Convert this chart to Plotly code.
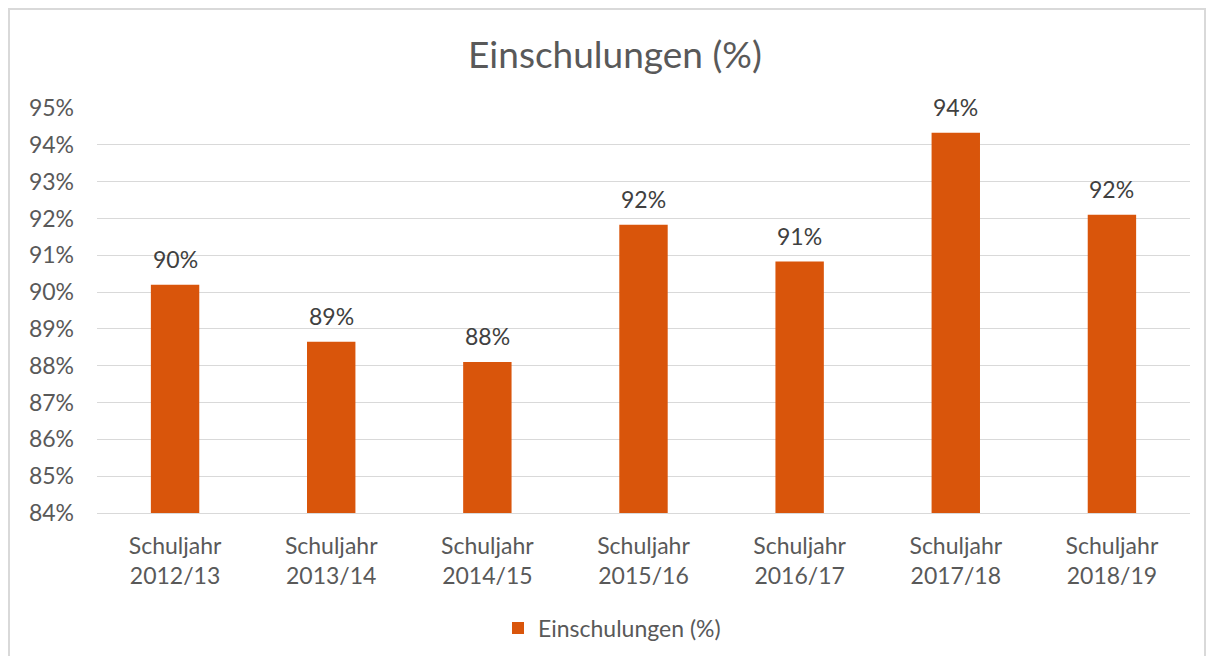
import plotly.graph_objects as go

categories = ["Schuljahr<br>2012/13", "Schuljahr<br>2013/14", "Schuljahr<br>2014/15",
              "Schuljahr<br>2015/16", "Schuljahr<br>2016/17", "Schuljahr<br>2017/18",
              "Schuljahr<br>2018/19"]
values = [90.2, 88.65, 88.1, 91.83, 90.83, 94.33, 92.1]
series_name = "Einschulungen (%)"

L, R, T, B = 97, 16, 108, 143
W, H = 1206, 656
pw, ph = W - L - R, H - T - B

def px_x(p):
    return (p - L) / pw

def px_y(p):
    return (H - B - p) / ph

fig = go.Figure(go.Bar(
    x=categories, y=values, name=series_name,
    marker=dict(color="#D9550B", line=dict(width=0)),
    showlegend=True, hoverinfo="x+y",
))

for c, v in zip(categories, values):
    fig.add_annotation(x=c, y=v, xref="x", yref="y", text=f"{v:.0f}%",
                       showarrow=False, yanchor="bottom", yshift=10,
                       font=dict(size=23, color="#404040", family="Lato"))

fig.update_layout(
    width=W, height=H,
    margin=dict(l=L, r=R, t=T, b=B, autoexpand=False),
    paper_bgcolor="white", plot_bgcolor="white",
    font=dict(family="Lato", color="#595959"),
    bargap=0.69,
    title=dict(text="Einschulungen (%)", x=px_x(615), xref="paper", xanchor="center",
               y=1 - 55 / H, yanchor="middle",
               font=dict(size=37, color="#595959", family="Lato")),
    xaxis=dict(showgrid=False, showline=True, linecolor="#d9d9d9", linewidth=1,
               tickfont=dict(size=23, color="#595959"), ticks="", ticklabelstandoff=12,
               automargin=False),
    yaxis=dict(range=[84, 95], dtick=1, ticksuffix="%", showgrid=True,
               gridcolor="#d9d9d9", gridwidth=1, zeroline=False, showline=False,
               tickfont=dict(size=23, color="#595959"), ticks="", ticklabelstandoff=22,
               automargin=False),
    legend=dict(orientation="h", x=px_x(612), xanchor="center", y=px_y(628), yanchor="middle",
                font=dict(size=23, color="#595959"), itemwidth=30),
    shapes=[dict(type="rect", xref="paper", yref="paper",
                 x0=px_x(9), x1=px_x(1205), y0=px_y(9), y1=px_y(670),
                 line=dict(color="#d9d9d9", width=2), fillcolor="rgba(0,0,0,0)", layer="below")],
)

fig.write_html("out.html", config={"displayModeBar": False},
               post_script="document.body.style.margin='0';")
